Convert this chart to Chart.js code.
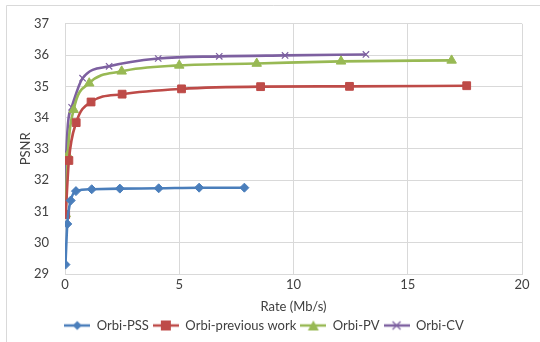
<!DOCTYPE html>
<html>
<head>
<meta charset="utf-8">
<script src="https://cdn.jsdelivr.net/npm/chart.js@4/dist/chart.umd.min.js"></script>
<style>
  html, body { margin: 0; padding: 0; background: #fff; }
  #wrap { position: relative; width: 540px; height: 342px; }
</style>
</head>
<body>
<div id="wrap"><canvas id="c" width="540" height="342"></canvas></div>
<script>
// Rate (Mb/s) and PSNR (dB) per configuration
const pssRate  = [0.02, 0.1, 0.25, 0.48, 1.17, 2.4, 4.1, 5.87, 7.85];
const pssPsnr  = [29.3, 30.6, 31.35, 31.65, 31.71, 31.73, 31.74, 31.76, 31.76];

const prevRate = [0.03, 0.17, 0.49, 1.14, 2.5, 5.1, 8.56, 12.45, 17.58];
const prevPsnr = [30.9, 32.63, 33.84, 34.5, 34.75, 34.92, 34.99, 35.0, 35.02];

const pvRate   = [0.03, 0.12, 0.38, 1.06, 2.48, 5.0, 8.39, 12.08, 16.92];
const pvPsnr   = [30.92, 32.8, 34.25, 35.1, 35.48, 35.67, 35.73, 35.8, 35.83];

const cvRate   = [0.03, 0.06, 0.29, 0.77, 1.93, 4.08, 6.75, 9.63, 13.17];
const cvPsnr   = [30.95, 32.88, 34.33, 35.26, 35.64, 35.89, 35.96, 35.99, 36.02];

const seriesNames = ['Orbi-PSS', 'Orbi-previous work', 'Orbi-PV', 'Orbi-CV'];
const xTicks = [0, 5, 10, 15, 20];
const yTicks = [29, 30, 31, 32, 33, 34, 35, 36, 37];

const colors  = ['#4A7EBB', '#BE4B48', '#98B954', '#7D60A0'];
const markers = ['rectRot', 'rect', 'triangle', 'crossRot'];
const radii   = [4.5, 5.5, 5.5, 4.5];

function toPoints(xs, ys) { return xs.map((x, i) => ({ x: x, y: ys[i] })); }

// Small legend swatch: line segment with the series marker in the middle
function swatch(color, style) {
  const c = document.createElement('canvas');
  c.width = 26; c.height = 12;
  const g = c.getContext('2d');
  g.strokeStyle = color; g.lineWidth = 2.5;
  g.beginPath(); g.moveTo(0, 6); g.lineTo(26, 6); g.stroke();
  g.fillStyle = color;
  g.beginPath();
  if (style === 'rectRot') {
    g.moveTo(13, 1.5); g.lineTo(17.5, 6); g.lineTo(13, 10.5); g.lineTo(8.5, 6); g.closePath(); g.fill();
  } else if (style === 'rect') {
    g.fillRect(8, 1, 10, 10);
  } else if (style === 'triangle') {
    g.moveTo(13, 1); g.lineTo(18.5, 11); g.lineTo(7.5, 11); g.closePath(); g.fill();
  } else {
    g.lineWidth = 1.2;
    g.moveTo(9, 2); g.lineTo(17, 10); g.moveTo(17, 2); g.lineTo(9, 10); g.stroke();
  }
  return c;
}

const datasets = [
  toPoints(pssRate, pssPsnr),
  toPoints(prevRate, prevPsnr),
  toPoints(pvRate, pvPsnr),
  toPoints(cvRate, cvPsnr)
].map((pts, i) => ({
  label: seriesNames[i],
  data: pts,
  showLine: true,
  borderColor: colors[i],
  backgroundColor: colors[i],
  borderWidth: 2.6,
  cubicInterpolationMode: 'monotone',
  pointStyle: markers[i],
  pointRadius: radii[i],
  pointBorderWidth: markers[i] === 'crossRot' ? 1.2 : 1,
  pointBorderColor: colors[i],
  pointBackgroundColor: colors[i],
  legendSwatch: swatch(colors[i], markers[i])
}));

// Light frame around the whole figure
const framePlugin = {
  id: 'frame',
  beforeDraw(chart) {
    const ctx = chart.ctx;
    ctx.save();
    ctx.strokeStyle = '#D9D9D9';
    ctx.lineWidth = 1;
    ctx.beginPath();
    ctx.moveTo(6.5, 342); ctx.lineTo(6.5, 5.5); ctx.lineTo(540, 5.5);
    ctx.stroke();
    ctx.restore();
  }
};

const FONT = 'Lato, "Liberation Sans", sans-serif';
const TEXT = '#404040';

new Chart(document.getElementById('c'), {
  type: 'scatter',
  data: { datasets: datasets },
  plugins: [framePlugin],
  options: {
    responsive: false,
    animation: false,
    layout: { padding: { left: 6, top: 19, right: 18, bottom: 0 } },
    plugins: {
      tooltip: { enabled: false },
      legend: {
        position: 'bottom',
        labels: {
          usePointStyle: true,
          pointStyleWidth: 26,
          padding: 4,
          color: TEXT,
          font: { family: FONT, size: 13 },
          generateLabels(chart) {
            return chart.data.datasets.map((ds, i) => ({
              text: ds.label,
              pointStyle: ds.legendSwatch,
              fillStyle: ds.borderColor,
              strokeStyle: ds.borderColor,
              fontColor: TEXT,
              lineWidth: 0,
              hidden: false,
              datasetIndex: i
            }));
          }
        }
      }
    },
    scales: {
      x: {
        type: 'linear',
        min: 0, max: 20,
        afterBuildTicks(scale) { scale.ticks = xTicks.map(v => ({ value: v })); },
        afterFit(scale) { scale.height = 41; },
        grid: { color: '#D9D9D9', drawTicks: false, lineWidth: 1 },
        border: { color: '#D9D9D9' },
        ticks: { color: TEXT, padding: 3, font: { family: FONT, size: 13 }, maxRotation: 0 },
        title: { display: true, text: 'Rate (Mb/s)', color: TEXT, font: { family: FONT, size: 13 }, padding: { top: 2, bottom: 0 } }
      },
      y: {
        type: 'linear',
        min: 29, max: 37,
        afterBuildTicks(scale) { scale.ticks = yTicks.map(v => ({ value: v })); },
        afterFit(scale) { scale.width = 59; },
        grid: { color: '#D9D9D9', drawTicks: false, lineWidth: 1 },
        border: { color: '#D9D9D9' },
        ticks: { color: TEXT, padding: 16, font: { family: FONT, size: 13 } },
        title: { display: true, text: 'PSNR', color: TEXT, font: { family: FONT, size: 13 }, padding: { top: 12, bottom: 0 } }
      }
    }
  }
});
</script>
</body>
</html>
